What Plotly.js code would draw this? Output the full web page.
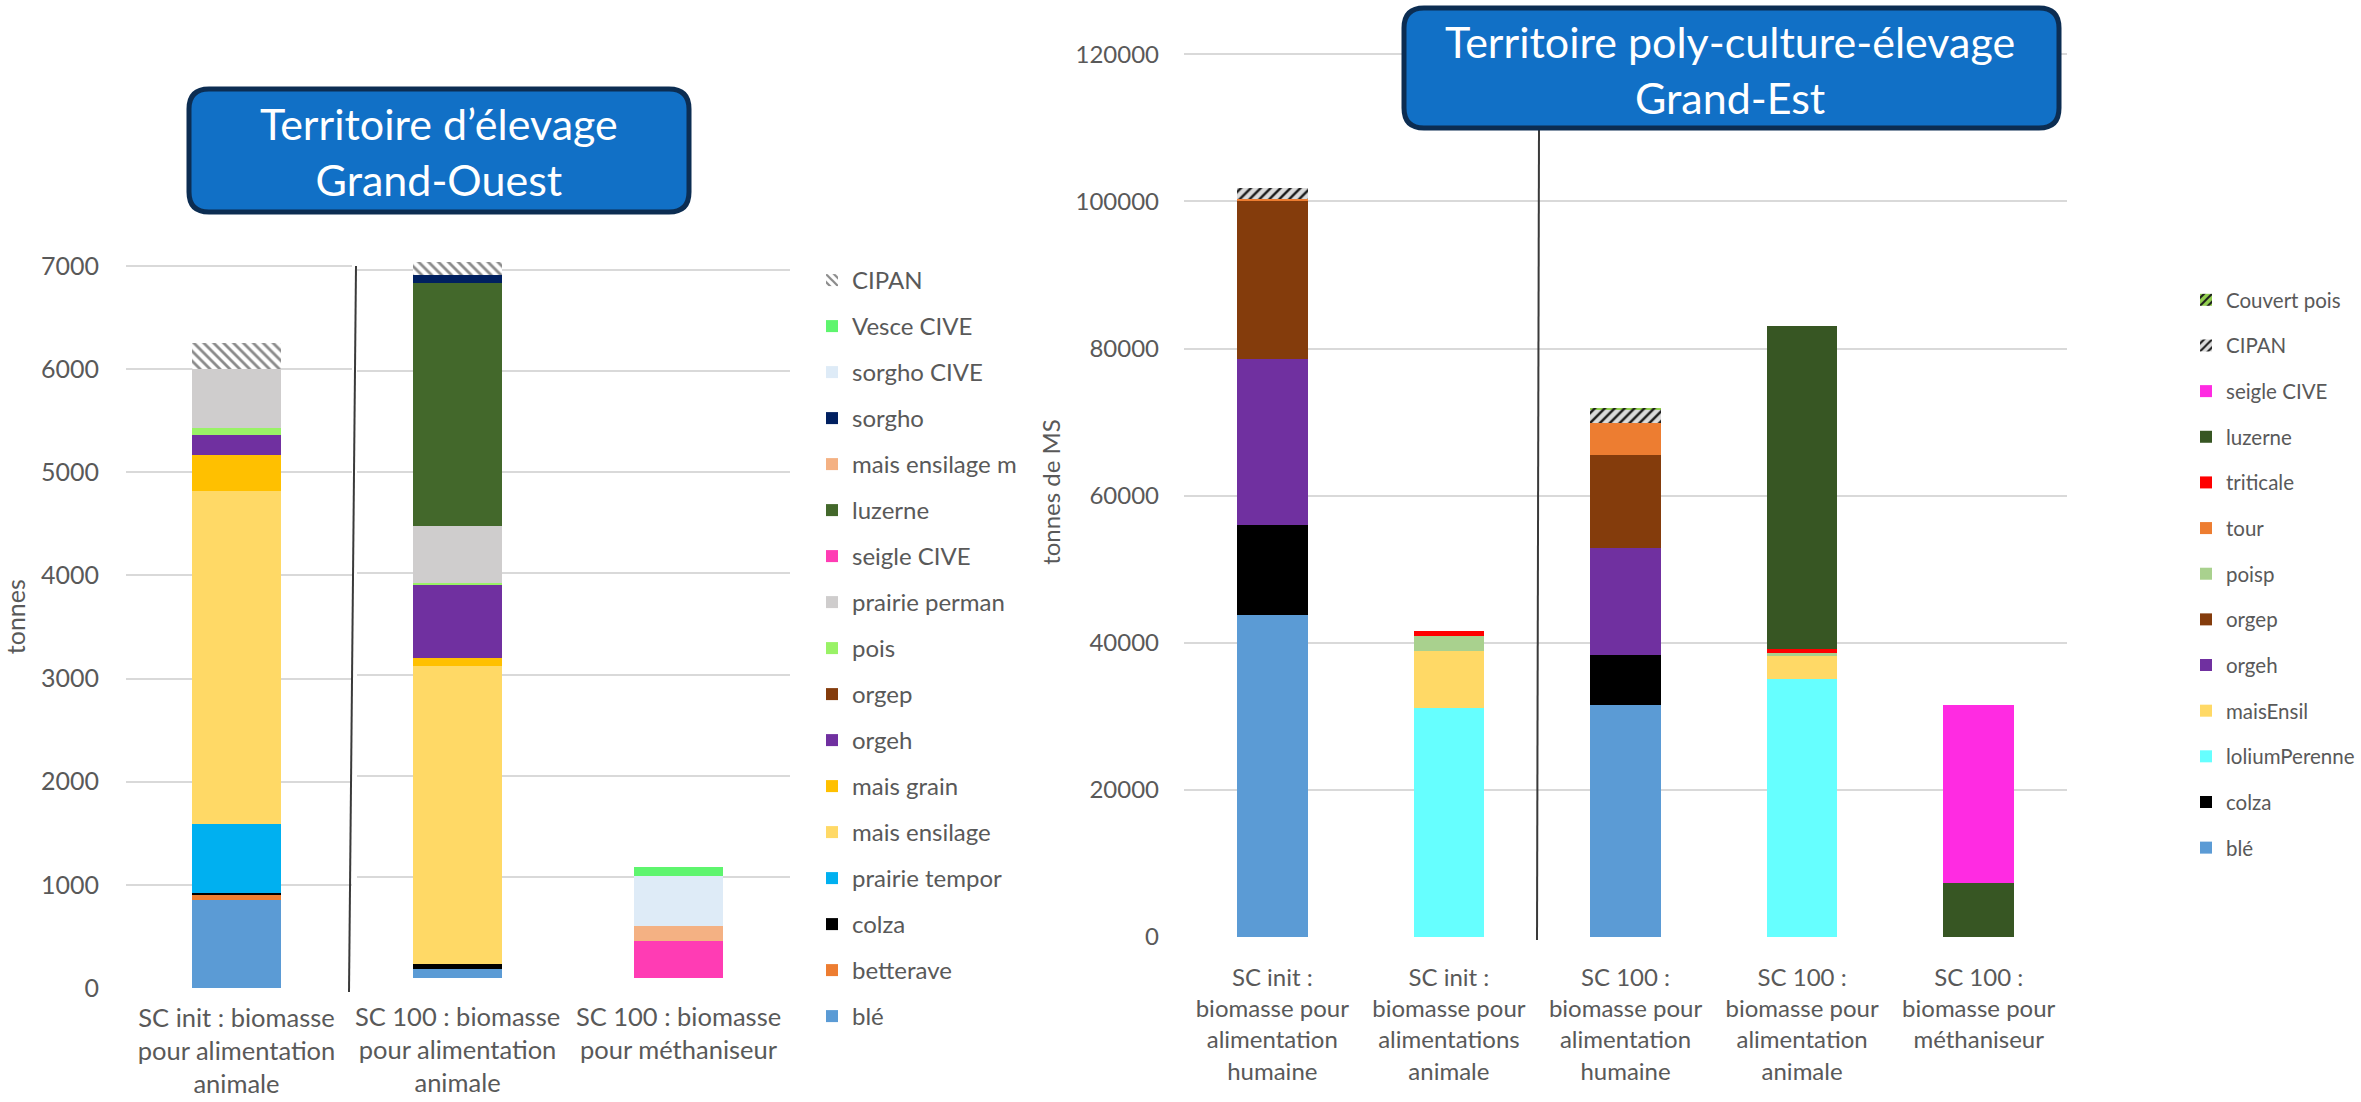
<!DOCTYPE html>
<html>
<head>
<meta charset="utf-8">
<script src="https://cdn.plot.ly/plotly-3.0.1.min.js"></script>
<style>
  html, body { margin: 0; padding: 0; background: #ffffff; }
  #chart { width: 2361px; height: 1102px; }
</style>
</head>
<body>
<div id="chart"></div>
<script>
// ---- Territoire d'élevage Grand-Ouest (tonnes) ----
const catsOuest = [
  "SC init : biomasse<br>pour alimentation<br>animale",
  "SC 100 : biomasse<br>pour alimentation<br>animale",
  "SC 100 : biomasse<br>pour méthaniseur"
];
const ouestBle = [850, 90, 0];
const ouestBetterave = [50, 0, 0];
const ouestColza = [20, 50, 0];
const ouestPrairieTempo = [670, 0, 0];
const ouestMaisEnsilage = [3230, 2940, 0];
const ouestMaisGrain = [350, 80, 0];
const ouestOrgeh = [190, 730, 0];
const ouestOrgep = [0, 0, 0];
const ouestPois = [70, 20, 0];
const ouestPrairiePerm = [570, 555, 0];
const ouestSeigleCive = [0, 0, 370];
const ouestLuzerne = [0, 2410, 0];
const ouestMaisEnsilageMetha = [0, 0, 140];
const ouestSorgho = [0, 80, 0];
const ouestSorghoCive = [0, 0, 495];
const ouestVesceCive = [0, 0, 90];
const ouestCipan = [250, 125, 0];

// ---- Territoire poly-culture-élevage Grand-Est (tonnes de MS) ----
const catsEst = [
  "SC init :<br>biomasse pour<br>alimentation<br>humaine",
  "SC init :<br>biomasse pour<br>alimentations<br>animale",
  "SC 100 :<br>biomasse pour<br>alimentation<br>humaine",
  "SC 100 :<br>biomasse pour<br>alimentation<br>animale",
  "SC 100 :<br>biomasse pour<br>méthaniseur"
];
const estBle = [43800, 0, 31500, 0, 0];
const estColza = [12200, 0, 6900, 0, 0];
const estLolium = [0, 31100, 0, 35100, 0];
const estMaisEnsil = [0, 7750, 0, 3050, 0];
const estOrgeh = [22600, 0, 14450, 0, 0];
const estOrgep = [21400, 0, 12700, 0, 0];
const estPoisp = [0, 2100, 0, 500, 0];
const estTour = [400, 0, 4330, 0, 0];
const estTriticale = [0, 600, 0, 450, 0];
const estLuzerne = [0, 0, 0, 44000, 7300];
const estSeigleCive = [0, 0, 0, 0, 24300];
const estCipan = [1400, 0, 1750, 0, 0];
const estCouvertPois = [0, 0, 250, 0, 0];

const W = 2361, H = 1102;
const px = x => x / W;
const py = y => 1 - y / H;
const FONT = 'Lato, "Open Sans", sans-serif';
const GREY = '#595959';

// Stacked from the bottom up; the legend lists the top segment first.
// The Grand-Ouest panel is split in two plot areas: the initial scenario
// (x / y) and the two SC 100 bars (x3 / y3), each with its own grid.
let rank = 1000;
function ouest(name, vals, color, pattern) {
  const r = rank--;
  const base = {
    type: 'bar', name: name, legend: 'legend', legendgroup: 'L' + name, legendrank: r,
    marker: { color: color, line: { width: 0 } }, hoverinfo: 'skip'
  };
  if (pattern) base.marker.pattern = pattern;
  const a = Object.assign({}, base, { x: catsOuest.slice(0, 1), y: vals.slice(0, 1), xaxis: 'x', yaxis: 'y' });
  const b = Object.assign({}, base, { x: catsOuest.slice(1), y: vals.slice(1), xaxis: 'x3', yaxis: 'y3', showlegend: false });
  return [a, b];
}
function est(name, vals, color, pattern) {
  const t = {
    type: 'bar', name: name, x: catsEst, y: vals, xaxis: 'x2', yaxis: 'y2',
    legend: 'legend2', legendgroup: 'R' + name, legendrank: rank--,
    marker: { color: color, line: { width: 0 } }, hoverinfo: 'skip'
  };
  if (pattern) t.marker.pattern = pattern;
  return t;
}

const hatchOuest = { shape: '\\', fillmode: 'replace', fgcolor: '#8a8a8a', bgcolor: '#ffffff', size: 7, solidity: 0.4 };
const hatchEst = { shape: '/', fillmode: 'replace', fgcolor: '#1a1a1a', bgcolor: '#dcdcdc', size: 7, solidity: 0.35 };
const hatchPois = { shape: '/', fillmode: 'replace', fgcolor: '#1a1a1a', bgcolor: '#92d050', size: 7, solidity: 0.35 };

const data = [].concat(
  ouest('blé', ouestBle, '#5b9bd5'),
  ouest('betterave', ouestBetterave, '#ed7d31'),
  ouest('colza', ouestColza, '#000000'),
  ouest('prairie tempor', ouestPrairieTempo, '#00b0f0'),
  ouest('mais ensilage', ouestMaisEnsilage, '#ffd966'),
  ouest('mais grain', ouestMaisGrain, '#ffc000'),
  ouest('orgeh', ouestOrgeh, '#7030a0'),
  ouest('orgep', ouestOrgep, '#843c0c'),
  ouest('pois', ouestPois, '#99f266'),
  ouest('prairie perman', ouestPrairiePerm, '#cfcdcd'),
  ouest('seigle CIVE', ouestSeigleCive, '#ff3cb4'),
  ouest('luzerne', ouestLuzerne, '#43682b'),
  ouest('mais ensilage m', ouestMaisEnsilageMetha, '#f4b183'),
  ouest('sorgho', ouestSorgho, '#002060'),
  ouest('sorgho CIVE', ouestSorghoCive, '#deebf7'),
  ouest('Vesce CIVE', ouestVesceCive, '#5ef56e'),
  ouest('CIPAN', ouestCipan, '#ffffff', hatchOuest),

  est('blé', estBle, '#5b9bd5'),
  est('colza', estColza, '#000000'),
  est('loliumPerenne', estLolium, '#66ffff'),
  est('maisEnsil', estMaisEnsil, '#ffd966'),
  est('orgeh', estOrgeh, '#7030a0'),
  est('orgep', estOrgep, '#843c0c'),
  est('poisp', estPoisp, '#a9d18e'),
  est('tour', estTour, '#ed7d31'),
  est('triticale', estTriticale, '#ff0000'),
  est('luzerne', estLuzerne, '#375623'),
  est('seigle CIVE', estSeigleCive, '#ff2be2'),
  est('CIPAN', estCipan, '#dcdcdc', hatchEst),
  est('Couvert pois', estCouvertPois, '#92d050', hatchPois)
);

// rounded title box drawn in paper coordinates from pixel corners
function roundedBox(x0, y0, x1, y1, r) {
  const P = (x, y) => px(x) + ',' + py(y);
  return 'M' + P(x0 + r, y0) + ' L' + P(x1 - r, y0) + ' Q' + P(x1, y0) + ' ' + P(x1, y0 + r) +
    ' L' + P(x1, y1 - r) + ' Q' + P(x1, y1) + ' ' + P(x1 - r, y1) +
    ' L' + P(x0 + r, y1) + ' Q' + P(x0, y1) + ' ' + P(x0, y1 - r) +
    ' L' + P(x0, y0 + r) + ' Q' + P(x0, y0) + ' ' + P(x0 + r, y0) + ' Z';
}

const boxStyle = { fillcolor: '#1170c6', line: { color: '#0c2d52', width: 5 } };

const catAxis = (domain, range, anchor, size, standoff) => ({
  domain: domain, range: range, anchor: anchor, type: 'category',
  showgrid: false, showline: false, zeroline: false, ticks: '',
  tickfont: { family: FONT, size: size, color: GREY }, ticklabelstandoff: standoff
});
const valAxis = (domain, range, anchor, dtick, extra) => Object.assign({
  domain: domain, range: range, anchor: anchor, dtick: dtick, tickformat: 'd',
  showgrid: true, gridcolor: '#d9d9d9', gridwidth: 2, zeroline: false, showline: false, ticks: ''
}, extra);

const layout = {
  width: W, height: H,
  margin: { l: 0, r: 0, t: 0, b: 0 },
  paper_bgcolor: '#ffffff', plot_bgcolor: 'rgba(0,0,0,0)',
  barmode: 'stack', bargap: 0.6,
  font: { family: FONT, color: GREY },
  showlegend: true,
  xaxis: catAxis([px(126), px(352)], [-0.5, 0.5226], 'y', 25.5, 12),
  yaxis: valAxis([py(988), py(245.4)], [0, 7200], 'x', 1000, {
    tickfont: { family: FONT, size: 25, color: GREY }, ticklabelstandoff: 26,
    title: { text: 'tonnes', font: { family: FONT, size: 25, color: GREY }, standoff: 8 }
  }),
  xaxis3: catAxis([px(357), px(790)], [-0.455, 1.5045], 'y3', 25.5, 21),
  yaxis3: valAxis([py(978), py(249.8)], [0, 7200], 'x3', 1000, { showticklabels: false }),
  xaxis2: catAxis([px(1184), px(2067)], [-0.5, 4.5], 'y2', 24, 24),
  yaxis2: valAxis([py(937), py(47)], [0, 121000], 'x2', 20000, {
    tickfont: { family: FONT, size: 24, color: GREY }, ticklabelstandoff: 24,
    title: { text: 'tonnes de MS', font: { family: FONT, size: 24, color: GREY }, standoff: 8 }
  }),
  legend: {
    x: px(812), y: py(258), xanchor: 'left', yanchor: 'top',
    traceorder: 'grouped', tracegroupgap: 11.8,
    font: { family: FONT, size: 24, color: GREY },
    bgcolor: 'rgba(0,0,0,0)', borderwidth: 0
  },
  legend2: {
    x: px(2186), y: py(280), xanchor: 'left', yanchor: 'top',
    traceorder: 'grouped', tracegroupgap: 16,
    font: { family: FONT, size: 20.5, color: GREY },
    bgcolor: 'rgba(0,0,0,0)', borderwidth: 0
  },
  shapes: [
    { type: 'line', xref: 'paper', yref: 'paper', x0: px(356), y0: py(266), x1: px(349), y1: py(992),
      line: { color: '#3a3a3a', width: 2 } },
    { type: 'line', xref: 'paper', yref: 'paper', x0: px(1539), y0: py(128), x1: px(1537), y1: py(940),
      line: { color: '#3a3a3a', width: 2 } },
    Object.assign({ type: 'path', xref: 'paper', yref: 'paper', path: roundedBox(189, 89, 689, 212, 20) }, boxStyle),
    Object.assign({ type: 'path', xref: 'paper', yref: 'paper', path: roundedBox(1404, 8, 2059, 128, 20) }, boxStyle)
  ],
  annotations: [
    { xref: 'paper', yref: 'paper', x: px(439), y: py(151), xanchor: 'center', yanchor: 'middle',
      showarrow: false, align: 'center',
      text: 'Territoire d’élevage<br>Grand-Ouest',
      font: { family: FONT, size: 43, color: '#ffffff' } },
    { xref: 'paper', yref: 'paper', x: px(1730), y: py(69), xanchor: 'center', yanchor: 'middle',
      showarrow: false, align: 'center',
      text: 'Territoire poly-culture-élevage<br>Grand-Est',
      font: { family: FONT, size: 43, color: '#ffffff' } }
  ]
};

Plotly.newPlot('chart', data, layout, { staticPlot: true, displayModeBar: false });
</script>
</body>
</html>
